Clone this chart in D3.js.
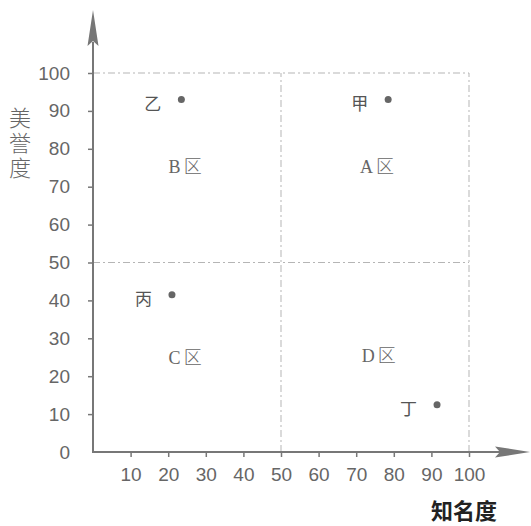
<!DOCTYPE html>
<html><head><meta charset="utf-8">
<script src="https://cdn.jsdelivr.net/npm/d3@7"></script>
<style>body{margin:0;background:#fff}svg{display:block}</style>
</head><body>
<script>
const pointNames = ["甲","乙","丙","丁"];
const fame = [78.5, 23.5, 21, 91.5];
const reputation = [93, 93, 41.5, 12.5];
const regionNames = ["A区","B区","C区","D区"];
const regionLetters = ["A","B","C","D"];
const regionX = [75.5, 24.5, 24.5, 76];
const regionY = [75.5, 75.5, 25, 25.5];
const xTicks = [10,20,30,40,50,60,70,80,90,100];
const yTicks = [0,10,20,30,40,50,60,70,80,90,100];
const dividers = [50, 100];
const xTitle = "知名度";
const yTitle = "美誉度";

const W = 531, H = 526;
const svg = d3.select("body").append("svg").attr("width", W).attr("height", H);
const x = d3.scaleLinear().domain([0,100]).range([93,469]);
const y = d3.scaleLinear().domain([0,100]).range([452,73]);
const axisCol = "#777", textCol = "#666", dashCol = "#b5b5b5";

// dashed quadrant lines
const g = svg.append("g");
dividers.forEach(v => {
  g.append("line").attr("x1", x(0)).attr("x2", x(100)).attr("y1", y(v)).attr("y2", y(v))
    .attr("stroke", dashCol).attr("stroke-width", 1).attr("stroke-dasharray", "7,3,2,3");
  g.append("line").attr("x1", x(v)).attr("x2", x(v)).attr("y1", y(0)).attr("y2", y(100))
    .attr("stroke", dashCol).attr("stroke-width", 1).attr("stroke-dasharray", "7,3,2,3");
});

// axes
const xAxis = svg.append("g").attr("transform", `translate(0,${y(0)})`)
  .call(d3.axisBottom(x).tickValues(xTicks).tickSize(5).tickPadding(11));
const yAxis = svg.append("g").attr("transform", `translate(${x(0)},0)`)
  .call(d3.axisLeft(y).tickValues(yTicks).tickSize(5).tickPadding(18));
[xAxis, yAxis].forEach(a => {
  a.select(".domain").remove();
  a.selectAll(".tick line").attr("stroke", axisCol).attr("stroke-width", 1.5);
  a.selectAll(".tick text").attr("fill", textCol).style("font-family", "'Liberation Sans', Arial, sans-serif").style("font-size", "19px");
});
yAxis.selectAll(".tick").filter(d => d === 0).select("line").remove();

// axis lines with arrows
svg.append("line").attr("x1", x(0)).attr("x2", x(0)).attr("y1", y(0)+1).attr("y2", 42)
  .attr("stroke", axisCol).attr("stroke-width", 2);
svg.append("path").attr("d", `M${x(0)},10 L${x(0)+5.5},46 L${x(0)},41 L${x(0)-5.5},46 Z`).attr("fill", axisCol);
svg.append("line").attr("x1", x(0)-1).attr("x2", 500).attr("y1", y(0)).attr("y2", y(0))
  .attr("stroke", axisCol).attr("stroke-width", 2);
svg.append("path").attr("d", `M530,${y(0)} L495,${y(0)-5.5} L500,${y(0)} L495,${y(0)+5.5} Z`).attr("fill", axisCol);

// axis titles
svg.append("text").attr("x", 497).attr("y", 519).attr("text-anchor", "end")
  .attr("fill", "#222").style("font-family", "'Noto Sans CJK SC', sans-serif")
  .style("font-size", "22px").style("font-weight", "bold").text(xTitle);
svg.append("text").attr("transform", "translate(20,107)")
  .style("writing-mode", "vertical-rl").attr("text-anchor", "start")
  .attr("fill", textCol).style("font-family", "'Noto Sans CJK SC', sans-serif")
  .style("font-size", "22px").style("font-weight", "300").style("letter-spacing", "3px").text(yTitle);

// points
const pts = pointNames.map((n,i) => ({n, fx: fame[i], ry: reputation[i]}));
svg.append("g").selectAll("circle").data(pts).join("circle")
  .attr("cx", d => x(d.fx)).attr("cy", d => y(d.ry)).attr("r", 3.5).attr("fill", "#666");
svg.append("g").selectAll("text").data(pts).join("text")
  .attr("x", d => x(d.fx) - 20).attr("y", d => y(d.ry) + 10).attr("text-anchor", "end")
  .attr("fill", "#555").style("font-family", "'Noto Sans CJK SC', serif")
  .style("font-size", "17px").text(d => d.n);

// region labels
const regs = regionNames.map((n,i) => ({n, l: regionLetters[i], vx: regionX[i], vy: regionY[i]}));
const rt = svg.append("g").selectAll("text").data(regs).join("text")
  .attr("x", d => x(d.vx)).attr("y", d => y(d.vy) + 7).attr("text-anchor", "middle")
  .attr("fill", "#666").style("font-size", "18px");
rt.append("tspan").style("font-family", "'Liberation Serif', serif").text(d => d.l);
rt.append("tspan").attr("dx", 3).style("font-family", "'Noto Sans CJK SC', sans-serif").style("font-weight", "300").text(d => d.n.slice(1));
</script>
</body></html>
